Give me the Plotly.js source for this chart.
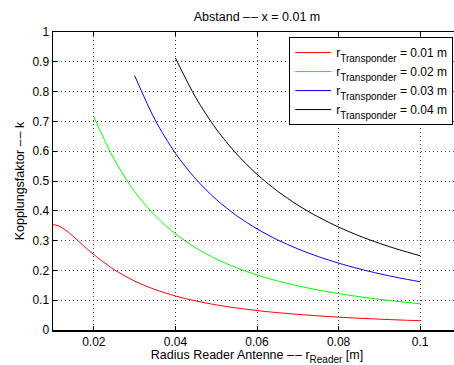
<!DOCTYPE html>
<html>
<head>
<meta charset="utf-8">
<script src="https://cdn.plot.ly/plotly-3.0.1.min.js"></script>
<style>
html,body{margin:0;padding:0;overflow:hidden;background:#fff;}
#chart{width:470px;height:365px;}
</style>
</head>
<body>
<div id="chart"></div>
<script>
// Reader radius values (m)
const rRed   = [0.01,0.01125,0.0125,0.01375,0.015,0.01625,0.0175,0.01875,0.02,0.025,0.03,0.035,0.04,0.045,0.05,0.055,0.06,0.065,0.07,0.075,0.08,0.085,0.09,0.095,0.1];
const kRed   = [0.3536,0.3499,0.3407,0.3281,0.3136,0.2982,0.2827,0.2676,0.2530,0.2025,0.1643,0.1358,0.1141,0.0975,0.0843,0.0738,0.0653,0.0583,0.0524,0.0474,0.0432,0.0395,0.0364,0.0336,0.0312];
const rGreen = [0.02,0.025,0.03,0.035,0.04,0.045,0.05,0.055,0.06,0.065,0.07,0.075,0.08,0.085,0.09,0.095,0.1];
const kGreen = [0.7155,0.5727,0.4648,0.3840,0.3228,0.2756,0.2385,0.2088,0.1847,0.1648,0.1482,0.1341,0.1221,0.1118,0.1028,0.0950,0.0881];
const rBlue  = [0.03,0.035,0.04,0.045,0.05,0.055,0.06,0.065,0.07,0.075,0.08,0.085,0.09,0.095,0.1];
const kBlue  = [0.8538,0.7054,0.5931,0.5064,0.4382,0.3837,0.3393,0.3027,0.2722,0.2464,0.2244,0.2054,0.1889,0.1745,0.1619];
const rBlack = [0.04,0.045,0.05,0.055,0.06,0.065,0.07,0.075,0.08,0.085,0.09,0.095,0.1];
const kBlack = [0.9131,0.7796,0.6746,0.5907,0.5224,0.4661,0.4190,0.3794,0.3454,0.3162,0.2909,0.2687,0.2492];
const transponderRadii = ['0.01','0.02','0.03','0.04'];
const colors = ['#ff0000','#00ff00','#0000ff','#000000'];
const xTicks = [0.02,0.04,0.06,0.08,0.1];
const yTicks = [0,0.1,0.2,0.3,0.4,0.5,0.6,0.7,0.8,0.9,1];

const sub = t => '<sub><sub><span style="font-size:10px">'+t+'</span></sub></sub>';
const names = transponderRadii.map(v => 'r'+sub('Transponder')+' = '+v+' m');
const xs=[rRed,rGreen,rBlue,rBlack], ys=[kRed,kGreen,kBlue,kBlack];
const traces = xs.map((x,i)=>({x:x,y:ys[i],name:names[i],type:'scatter',mode:'lines',
  line:{color:colors[i],width:1,shape:'spline',smoothing:0.8}}));

const font = {family:'"Liberation Sans", Arial, sans-serif', size:12, color:'#000'};
const layout = {
  width:470, height:365,
  margin:{l:53,r:9,t:32,b:35},
  paper_bgcolor:'#fff', plot_bgcolor:'#fff',
  font:font,
  showlegend:true,
  title:{text:'Abstand –\u200a– x = 0.01 m', font:{size:12.5}, x:0.5, xanchor:'center', xref:'paper', y:0.955, yanchor:'middle'},
  xaxis:{range:[0.01,0.11], tickvals:xTicks, ticks:'inside', ticklen:4, tickcolor:'#000',
    showline:true, linecolor:'#000', linewidth:1.5, mirror:'ticks',
    showgrid:true, gridcolor:'#444', griddash:'1px,3px', gridwidth:1, zeroline:false,
    tickfont:{size:12},
    title:{text:'Radius Reader Antenne –\u200a– r'+sub('Reader')+' [m]', font:{size:12.5}, standoff:2}},
  yaxis:{range:[0,1], tickvals:yTicks, ticks:'inside', ticklen:4, tickcolor:'#000',
    showline:true, linecolor:'#000', linewidth:1.5, mirror:'ticks',
    showgrid:true, gridcolor:'#444', griddash:'1px,3px', gridwidth:1, zeroline:false,
    tickfont:{size:12},
    title:{text:'Kopplungsfaktor –\u200a– k', font:{size:12.5}, standoff:5}},
  legend:{x:0.579, y:0.983, xanchor:'left', yanchor:'top', bgcolor:'#fff', itemwidth:36,
    bordercolor:'#000', borderwidth:1, font:{size:12}, tracegroupgap:0}
};
Plotly.newPlot('chart', traces, layout, {displayModeBar:false, staticPlot:true});
</script>
</body>
</html>
